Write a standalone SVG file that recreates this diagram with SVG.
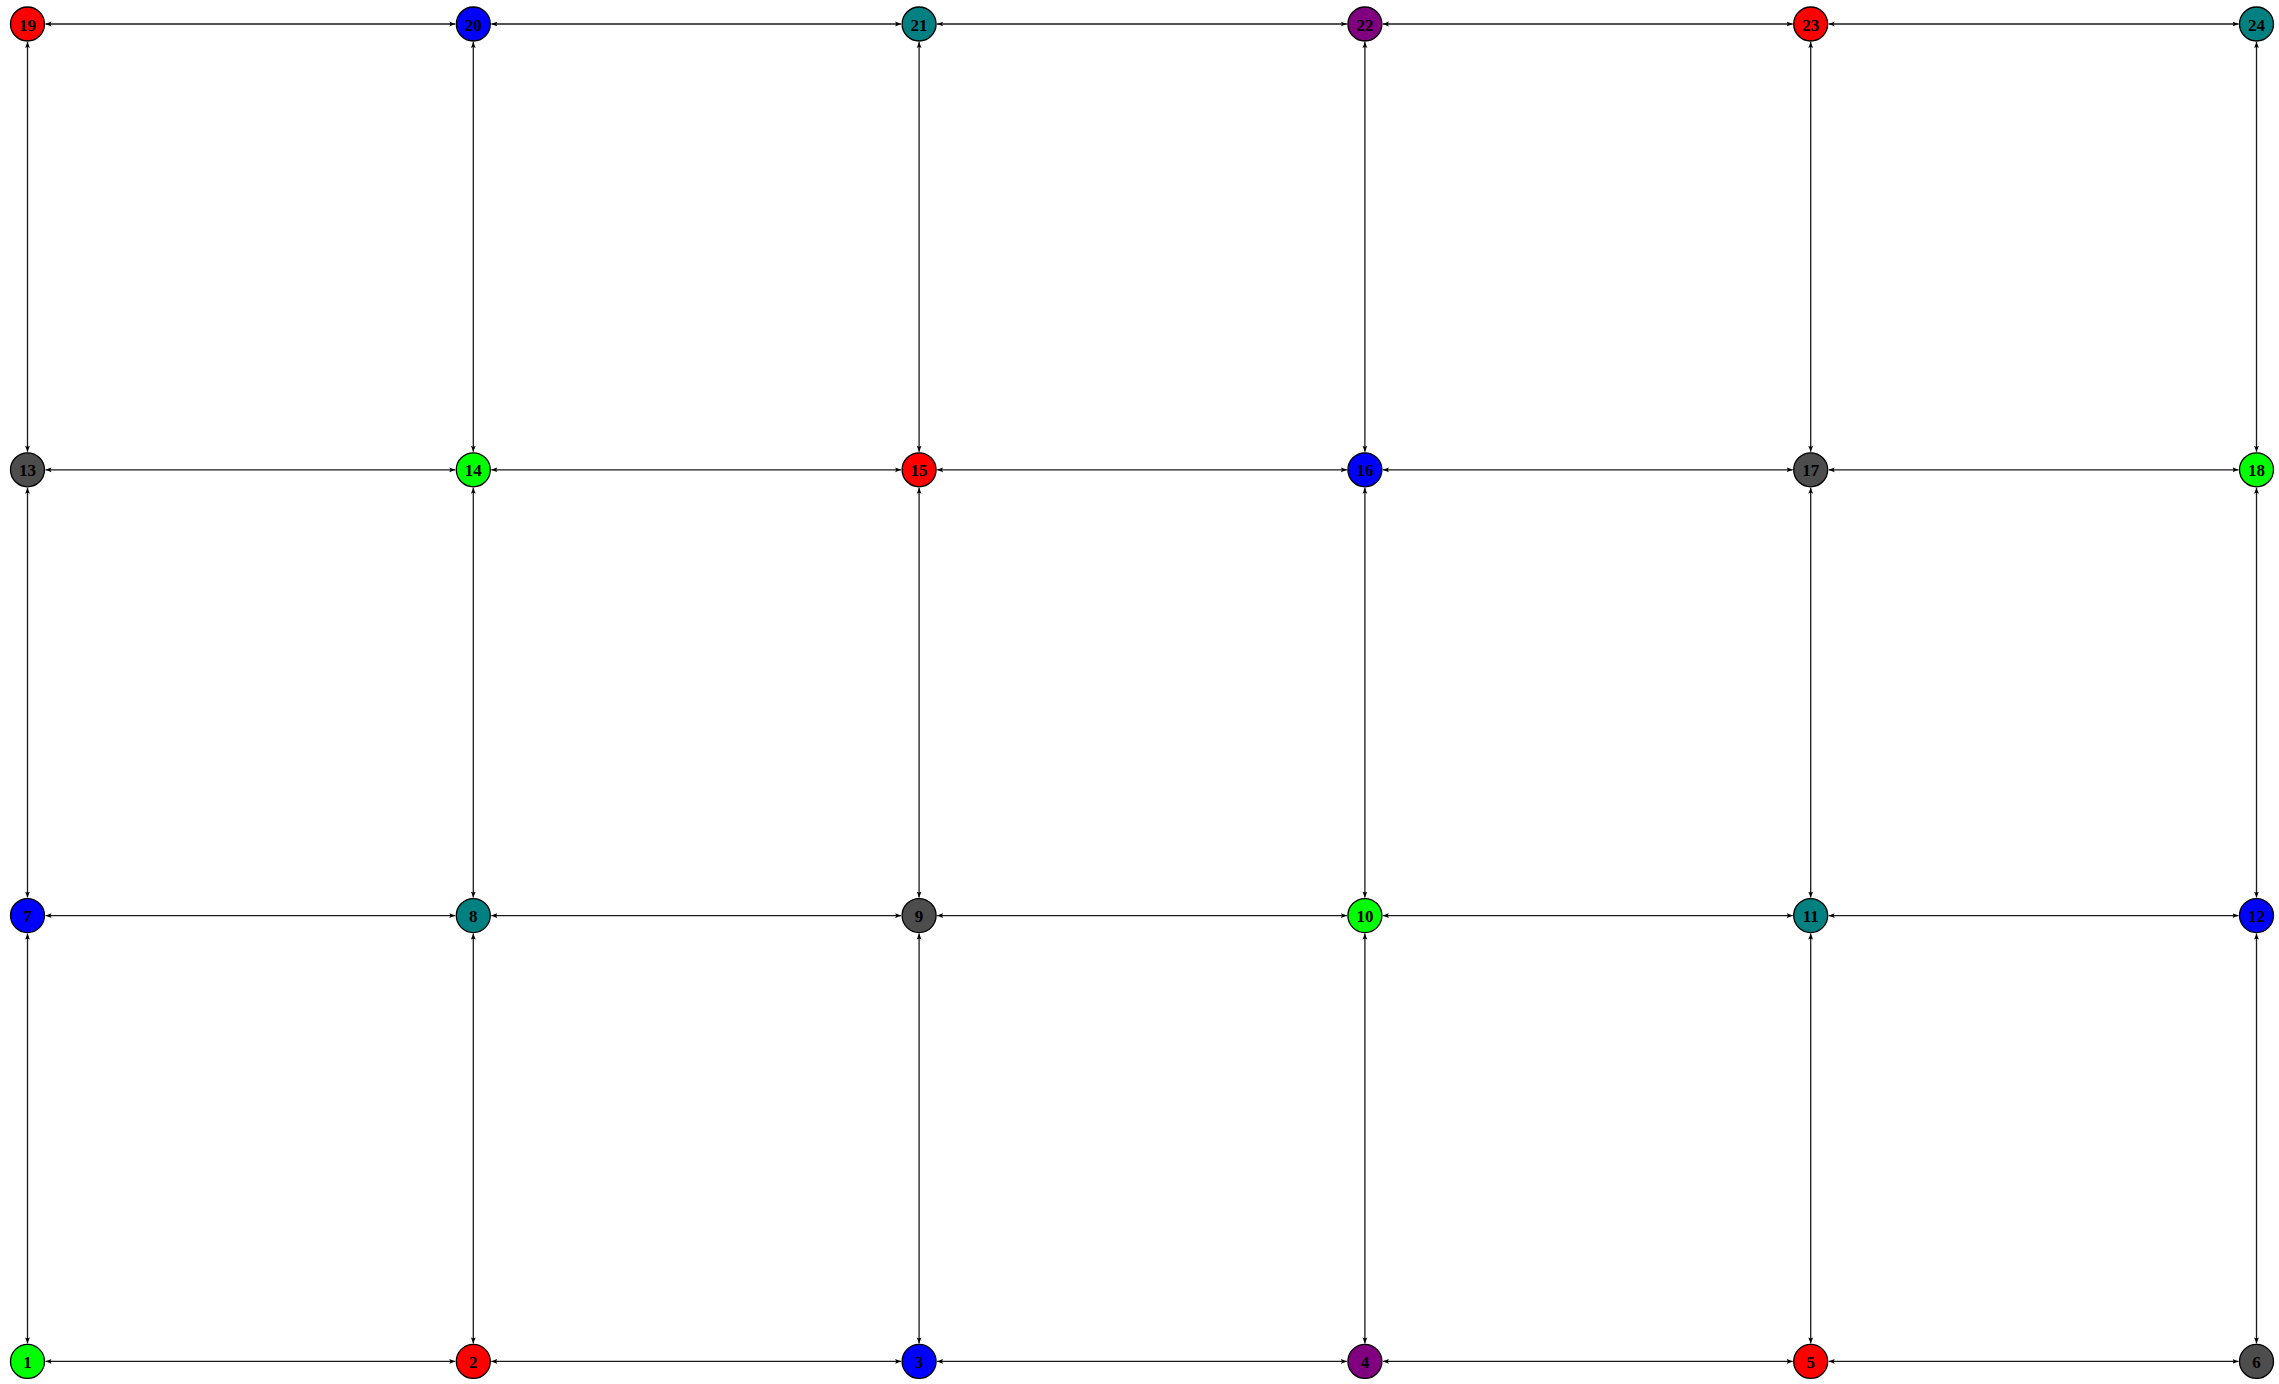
<svg xmlns="http://www.w3.org/2000/svg" width="2279" height="1384" viewBox="0 0 2279 1384">
<style>
.n circle{stroke:#000;stroke-width:1.3}
.n text{font-family:"Liberation Serif","DejaVu Serif",serif;font-weight:bold;font-size:17px;fill:#000;text-anchor:middle;dominant-baseline:central}
.e line{stroke:#1a1a1a;stroke-width:1.3;fill:none;marker-start:url(#ah);marker-end:url(#ah)}
.g{fill:#00ff00}.r{fill:#ff0000}.b{fill:#0000ff}.t{fill:#008080}.p{fill:#800080}.k{fill:#4d4d4d}
</style>
<defs>
<marker id="ah" viewBox="0 0 6 6" refX="6" refY="3" markerWidth="6" markerHeight="6" markerUnits="userSpaceOnUse" orient="auto-start-reverse">
<path d="M0,0.6 L6,3 L0,5.4 L1.2,3 z" fill="#000"/>
</marker>
</defs>
<rect width="2279" height="1384" fill="#fff"/>
<g id="edges" class="e">
<line x1="45.5" y1="24" x2="455.3" y2="24"/>
<line x1="491.3" y1="24" x2="901.1" y2="24"/>
<line x1="937.1" y1="24" x2="1346.9" y2="24"/>
<line x1="1382.9" y1="24" x2="1792.7" y2="24"/>
<line x1="1828.7" y1="24" x2="2238.5" y2="24"/>
<line x1="45.5" y1="469.8" x2="455.3" y2="469.8"/>
<line x1="491.3" y1="469.8" x2="901.1" y2="469.8"/>
<line x1="937.1" y1="469.8" x2="1346.9" y2="469.8"/>
<line x1="1382.9" y1="469.8" x2="1792.7" y2="469.8"/>
<line x1="1828.7" y1="469.8" x2="2238.5" y2="469.8"/>
<line x1="45.5" y1="915.6" x2="455.3" y2="915.6"/>
<line x1="491.3" y1="915.6" x2="901.1" y2="915.6"/>
<line x1="937.1" y1="915.6" x2="1346.9" y2="915.6"/>
<line x1="1382.9" y1="915.6" x2="1792.7" y2="915.6"/>
<line x1="1828.7" y1="915.6" x2="2238.5" y2="915.6"/>
<line x1="45.5" y1="1361.4" x2="455.3" y2="1361.4"/>
<line x1="491.3" y1="1361.4" x2="901.1" y2="1361.4"/>
<line x1="937.1" y1="1361.4" x2="1346.9" y2="1361.4"/>
<line x1="1382.9" y1="1361.4" x2="1792.7" y2="1361.4"/>
<line x1="1828.7" y1="1361.4" x2="2238.5" y2="1361.4"/>
<line x1="27.5" y1="42" x2="27.5" y2="451.8"/>
<line x1="27.5" y1="487.8" x2="27.5" y2="897.6"/>
<line x1="27.5" y1="933.6" x2="27.5" y2="1343.4"/>
<line x1="473.3" y1="42" x2="473.3" y2="451.8"/>
<line x1="473.3" y1="487.8" x2="473.3" y2="897.6"/>
<line x1="473.3" y1="933.6" x2="473.3" y2="1343.4"/>
<line x1="919.1" y1="42" x2="919.1" y2="451.8"/>
<line x1="919.1" y1="487.8" x2="919.1" y2="897.6"/>
<line x1="919.1" y1="933.6" x2="919.1" y2="1343.4"/>
<line x1="1364.9" y1="42" x2="1364.9" y2="451.8"/>
<line x1="1364.9" y1="487.8" x2="1364.9" y2="897.6"/>
<line x1="1364.9" y1="933.6" x2="1364.9" y2="1343.4"/>
<line x1="1810.7" y1="42" x2="1810.7" y2="451.8"/>
<line x1="1810.7" y1="487.8" x2="1810.7" y2="897.6"/>
<line x1="1810.7" y1="933.6" x2="1810.7" y2="1343.4"/>
<line x1="2256.5" y1="42" x2="2256.5" y2="451.8"/>
<line x1="2256.5" y1="487.8" x2="2256.5" y2="897.6"/>
<line x1="2256.5" y1="933.6" x2="2256.5" y2="1343.4"/>
</g>
<g id="n1" class="n"><circle cx="27.5" cy="1361.4" r="17" class="g"/><text x="27.5" y="1362.4">1</text></g>
<g id="n2" class="n"><circle cx="473.3" cy="1361.4" r="17" class="r"/><text x="473.3" y="1362.4">2</text></g>
<g id="n3" class="n"><circle cx="919.1" cy="1361.4" r="17" class="b"/><text x="919.1" y="1362.4">3</text></g>
<g id="n4" class="n"><circle cx="1364.9" cy="1361.4" r="17" class="p"/><text x="1364.9" y="1362.4">4</text></g>
<g id="n5" class="n"><circle cx="1810.7" cy="1361.4" r="17" class="r"/><text x="1810.7" y="1362.4">5</text></g>
<g id="n6" class="n"><circle cx="2256.5" cy="1361.4" r="17" class="k"/><text x="2256.5" y="1362.4">6</text></g>
<g id="n7" class="n"><circle cx="27.5" cy="915.6" r="17" class="b"/><text x="27.5" y="916.6">7</text></g>
<g id="n8" class="n"><circle cx="473.3" cy="915.6" r="17" class="t"/><text x="473.3" y="916.6">8</text></g>
<g id="n9" class="n"><circle cx="919.1" cy="915.6" r="17" class="k"/><text x="919.1" y="916.6">9</text></g>
<g id="n10" class="n"><circle cx="1364.9" cy="915.6" r="17" class="g"/><text x="1364.9" y="916.6">10</text></g>
<g id="n11" class="n"><circle cx="1810.7" cy="915.6" r="17" class="t"/><text x="1810.7" y="916.6">11</text></g>
<g id="n12" class="n"><circle cx="2256.5" cy="915.6" r="17" class="b"/><text x="2256.5" y="916.6">12</text></g>
<g id="n13" class="n"><circle cx="27.5" cy="469.8" r="17" class="k"/><text x="27.5" y="470.8">13</text></g>
<g id="n14" class="n"><circle cx="473.3" cy="469.8" r="17" class="g"/><text x="473.3" y="470.8">14</text></g>
<g id="n15" class="n"><circle cx="919.1" cy="469.8" r="17" class="r"/><text x="919.1" y="470.8">15</text></g>
<g id="n16" class="n"><circle cx="1364.9" cy="469.8" r="17" class="b"/><text x="1364.9" y="470.8">16</text></g>
<g id="n17" class="n"><circle cx="1810.7" cy="469.8" r="17" class="k"/><text x="1810.7" y="470.8">17</text></g>
<g id="n18" class="n"><circle cx="2256.5" cy="469.8" r="17" class="g"/><text x="2256.5" y="470.8">18</text></g>
<g id="n19" class="n"><circle cx="27.5" cy="24" r="17" class="r"/><text x="27.5" y="25">19</text></g>
<g id="n20" class="n"><circle cx="473.3" cy="24" r="17" class="b"/><text x="473.3" y="25">20</text></g>
<g id="n21" class="n"><circle cx="919.1" cy="24" r="17" class="t"/><text x="919.1" y="25">21</text></g>
<g id="n22" class="n"><circle cx="1364.9" cy="24" r="17" class="p"/><text x="1364.9" y="25">22</text></g>
<g id="n23" class="n"><circle cx="1810.7" cy="24" r="17" class="r"/><text x="1810.7" y="25">23</text></g>
<g id="n24" class="n"><circle cx="2256.5" cy="24" r="17" class="t"/><text x="2256.5" y="25">24</text></g>
</svg>
